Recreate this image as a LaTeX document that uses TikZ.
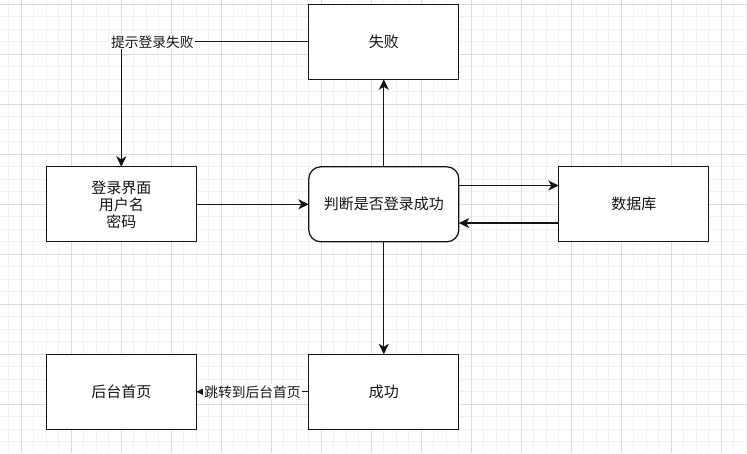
\documentclass[tikz,border=0pt]{standalone}
\usepackage{fontspec}
\setmainfont{Noto Sans CJK SC}
\usetikzlibrary{arrows.meta}
\definecolor{gridminor}{RGB}{242,242,242}
\definecolor{gridmajor}{RGB}{218,218,218}
\definecolor{ink}{RGB}{20,20,20}
\tikzset{
  box/.style={draw=ink, line width=1.25pt, fill=white, inner sep=0pt, outer sep=0pt,
    minimum width=150pt, minimum height=75pt, align=center, text=ink,
    font=\fontsize{15}{17}\selectfont},
  rbox/.style={box, rounded corners=12pt},
  arr/.style={draw=ink, line width=1.25pt, -{Stealth[length=10.5pt, width=10pt, inset=3pt]}},
  lbl/.style={fill=white, inner sep=1pt, text=ink, font=\fontsize{13.75}{15}\selectfont},
  minorline/.style={draw=gridminor, line width=1pt},
  majorline/.style={draw=gridmajor, line width=1pt}
}
\begin{document}
\begin{tikzpicture}[x=1pt, y=-1pt]
\useasboundingbox (0,0) rectangle (747,453);
\fill[white] (0,0) rectangle (747,453);
% grid
\foreach \i in {0,...,59} {
  \draw[minorline] ({8.8+12.5*\i},0) -- ++(0,453);
}
\foreach \i in {0,...,36} {
  \draw[minorline] (0,{4.3+12.5*\i}) -- ++(747,0);
}
\foreach \i in {0,...,14} {
  \draw[majorline] ({21.3+50*\i},0) -- ++(0,453);
}
\foreach \i in {0,...,9} {
  \draw[majorline] (0,{4.3+50*\i}) -- ++(747,0);
}
% nodes
\node[box]  (fail)  at (383.8,41.8)  {失败};
\node[box]  (login) at (121.3,204.3) {登录界面\\用户名\\密码};
\node[rbox] (judge) at (383.8,204.3) {判断是否登录成功};
\node[box]  (db)    at (633.8,204.3) {数据库};
\node[box]  (back)  at (121.3,391.8) {后台首页};
\node[box]  (succ)  at (383.8,391.8) {成功};
% connectors
\draw[arr] (fail.west) -| (login.north) node[lbl, pos=0.417] {提示登录失败};
\draw[arr] (judge.north) -- (fail.south);
\draw[arr] (login.east) -- (judge.west);
\draw[arr] ([yshift=18.75pt]judge.east) -- ([yshift=18.75pt]db.west);
\draw[arr] ([yshift=-18.75pt]db.west) -- ([yshift=-18.75pt]judge.east);
\draw[arr] (judge.south) -- (succ.north);
\draw[arr] (succ.west) -- (back.east) node[lbl, midway] {跳转到后台首页};
\end{tikzpicture}
\end{document}
